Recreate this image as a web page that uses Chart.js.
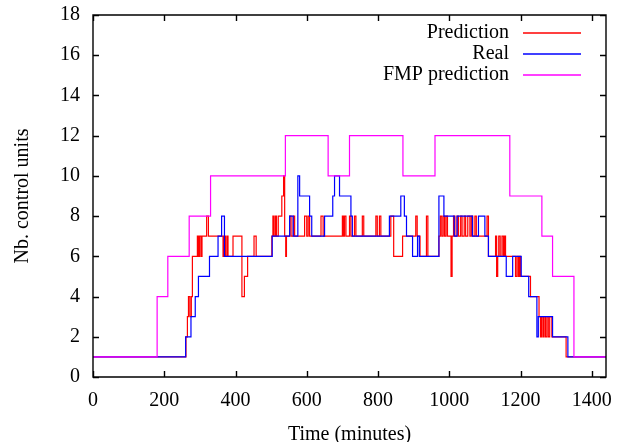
<!DOCTYPE html>
<html>
<head>
<meta charset="utf-8">
<script src="https://cdn.jsdelivr.net/npm/chart.js@4"></script>
<style>
  html, body { margin: 0; padding: 0; background: #fff; }
  #wrap { width: 618px; height: 442px; }
</style>
</head>
<body>
<div id="wrap"><canvas id="mainChart" width="618" height="442"></canvas></div>
<script>
// step series: time (minutes) where the value changes, and the new value
const predTime = [0, 261, 265, 268, 272, 276, 279, 293, 296, 299, 303, 306, 319, 324, 365, 368, 372, 376, 379, 393,
  418, 425, 434, 452, 458, 502, 505, 508, 512, 515, 520, 530, 535, 538, 541, 543, 552, 556, 562, 566,
  594, 600, 604, 608, 640, 646, 700, 703, 706, 710, 720, 724, 734, 738, 756, 760, 794, 798, 804, 808,
  836, 844, 869, 906, 910, 918, 936, 940, 971, 975, 979, 983, 987, 991, 995, 1005, 1008, 1012, 1016, 1022,
  1026, 1032, 1036, 1042, 1046, 1052, 1058, 1062, 1066, 1072, 1076, 1106, 1110, 1130, 1133, 1136, 1139, 1143, 1148, 1152,
  1155, 1158, 1186, 1190, 1194, 1197, 1200, 1228, 1252, 1256, 1259, 1263, 1266, 1270, 1274, 1278, 1282, 1288, 1328, 1440];
const predValue = [1, 2, 3, 4, 3, 4, 6, 7, 6, 7, 6, 7, 8, 7, 6, 7, 6, 7, 6, 7,
  4, 5, 6, 7, 6, 7, 8, 7, 8, 7, 8, 9, 10, 7, 6, 7, 8, 7, 8, 7,
  8, 7, 8, 7, 8, 7, 8, 7, 8, 7, 8, 7, 8, 7, 8, 7, 8, 7, 8, 7,
  8, 6, 7, 8, 7, 6, 8, 6, 7, 8, 7, 8, 7, 8, 7, 5, 7, 8, 7, 8,
  7, 8, 7, 8, 7, 8, 7, 8, 7, 8, 7, 8, 6, 7, 5, 6, 7, 6, 7, 6,
  7, 6, 5, 6, 5, 6, 5, 4, 3, 2, 3, 2, 3, 2, 3, 2, 3, 2, 1, 1];

const realTime = [0, 260, 275, 287, 296, 327, 351, 361, 369, 503, 552, 562, 575, 580, 608, 614, 650, 673, 678, 692,
  724, 728, 832, 864, 874, 880, 897, 911, 916, 971, 985, 1014, 1022, 1065, 1082, 1100, 1110, 1160, 1178, 1202,
  1223, 1246, 1250, 1290, 1333, 1440];
const realValue = [1, 2, 3, 4, 5, 6, 7, 8, 6, 7, 8, 7, 10, 9, 8, 7, 8, 9, 10, 9,
  8, 7, 8, 9, 8, 7, 6, 7, 6, 9, 8, 7, 8, 7, 8, 7, 6, 5, 6, 5,
  4, 2, 3, 2, 1, 1];

const fmpTime = [0, 180, 210, 270, 330, 540, 660, 720, 870, 960, 1170, 1260, 1290, 1350, 1440];
const fmpValue = [1, 4, 6, 8, 10, 12, 10, 12, 10, 12, 9, 7, 5, 1, 1];

const xTicks = [0, 200, 400, 600, 800, 1000, 1200, 1400];
const yTicks = [0, 2, 4, 6, 8, 10, 12, 14, 16, 18];

const toPoints = (ts, vs) => ts.map((t, i) => ({ x: t, y: vs[i] }));

const serif = "'Liberation Serif', 'DejaVu Serif', serif";
Chart.defaults.font.family = serif;
Chart.defaults.font.size = 20;
Chart.defaults.color = '#000';

// gnuplot-like box with inward ticks on all sides, plus the legend
const framePlugin = {
  id: 'frame',
  afterDatasetsDraw(chart) {
    const { ctx, chartArea: a, scales: { x, y } } = chart;
    const tl = 6;
    ctx.save();
    ctx.strokeStyle = '#000';
    ctx.lineWidth = 1.4;
    ctx.beginPath();
    ctx.rect(a.left, a.top, a.right - a.left, a.bottom - a.top);
    xTicks.forEach(v => {
      const px = Math.round(x.getPixelForValue(v)) + 0.5;
      ctx.moveTo(px, a.bottom); ctx.lineTo(px, a.bottom - tl);
      ctx.moveTo(px, a.top); ctx.lineTo(px, a.top + tl);
    });
    yTicks.forEach(v => {
      const py = Math.round(y.getPixelForValue(v)) + 0.5;
      ctx.moveTo(a.left, py); ctx.lineTo(a.left + tl, py);
      ctx.moveTo(a.right, py); ctx.lineTo(a.right - tl, py);
    });
    ctx.stroke();

    // legend, text right-aligned with a line sample after it
    ctx.font = '20px ' + serif;
    ctx.textAlign = 'right';
    ctx.textBaseline = 'middle';
    chart.data.datasets.forEach((ds, i) => {
      const cy = 33 + i * 21;
      ctx.fillStyle = '#000';
      ctx.fillText(ds.label, 509, cy);
      ctx.beginPath();
      ctx.moveTo(523, cy);
      ctx.lineTo(581, cy);
      ctx.lineWidth = 1.3;
      ctx.strokeStyle = ds.borderColor;
      ctx.stroke();
    });
    ctx.restore();
  }
};

const stepLine = (label, data, color, order) => ({
  label, data, order,
  borderColor: color,
  borderWidth: 1.2,
  stepped: true,
  pointRadius: 0,
  fill: false
});

new Chart(document.getElementById('mainChart').getContext('2d'), {
  type: 'line',
  data: {
    datasets: [
      stepLine('Prediction', toPoints(predTime, predValue), '#ff0000', 3),
      stepLine('Real', toPoints(realTime, realValue), '#0000ff', 2),
      stepLine('FMP prediction', toPoints(fmpTime, fmpValue), '#ff00ff', 1)
    ]
  },
  options: {
    responsive: false,
    animation: false,
    devicePixelRatio: 1,
    layout: { padding: { left: 0, right: 12, top: 15, bottom: 0 } },
    plugins: { legend: { display: false }, tooltip: { enabled: false } },
    scales: {
      x: {
        type: 'linear',
        min: 0, max: 1440,
        afterBuildTicks: s => { s.ticks = xTicks.map(v => ({ value: v })); },
        afterFit: s => { s.height = 65; s.paddingLeft = 0; s.paddingRight = 0; },
        grid: { display: false, drawTicks: false },
        border: { display: false },
        ticks: { padding: 12, maxRotation: 0, autoSkip: false, callback: v => String(v) },
        title: { display: true, text: 'Time (minutes)', padding: { top: 0, bottom: -5 } }
      },
      y: {
        type: 'linear',
        min: 0, max: 18,
        afterBuildTicks: s => { s.ticks = yTicks.map(v => ({ value: v })); },
        afterFit: s => { s.width = 93; s.paddingTop = 0; s.paddingBottom = 0; },
        grid: { display: false, drawTicks: false },
        border: { display: false },
        ticks: { padding: 13, autoSkip: false, callback: v => String(v) },
        title: { display: true, text: 'Nb. control units', padding: { top: 11, bottom: 0 } }
      }
    }
  },
  plugins: [framePlugin]
});
</script>
</body>
</html>
